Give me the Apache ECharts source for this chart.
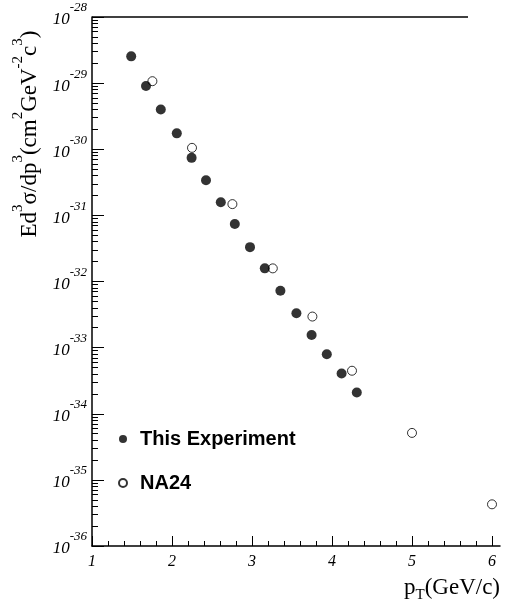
<!DOCTYPE html>
<html>
<head>
<meta charset="utf-8">
<script src="https://cdn.jsdelivr.net/npm/echarts@6/dist/echarts.min.js"></script>
<style>
  html, body { margin: 0; padding: 0; background: #fff; }
  #chart { width: 506px; height: 616px; }
</style>
</head>
<body>
<div id="chart"></div>
<script>
// This Experiment (filled) and NA24 (open), pT in GeV/c, cross section in cm^2 GeV^-2 c^3
const expPt = [1.49, 1.675, 1.86, 2.06, 2.245, 2.425, 2.61, 2.785, 2.975, 3.16, 3.355, 3.555, 3.745, 3.935, 4.12, 4.31]
const expSigma = [2.54e-29, 9.04e-30, 3.98e-30, 1.74e-30, 7.41e-31, 3.39e-31, 1.58e-31, 7.41e-32,
  3.31e-32, 1.58e-32, 7.24e-33, 3.31e-33, 1.55e-33, 7.94e-34, 4.07e-34, 2.09e-34]
const na24Pt = [1.755, 2.25, 2.755, 3.26, 3.755, 4.25, 5.0, 6.0]
const na24Sigma = [1.07e-29, 1.05e-30, 1.48e-31, 1.58e-32, 2.95e-33, 4.47e-34, 5.13e-35, 4.27e-36]

const xMajorTicks = [1, 2, 3, 4, 5, 6]
const xMinorTicks = [1.2, 1.4, 1.6, 1.8, 2.2, 2.4, 2.6, 2.8, 3.2, 3.4, 3.6, 3.8,
  4.2, 4.4, 4.6, 4.8, 5.2, 5.4, 5.6, 5.8]
const yDecades = [-36, -35, -34, -33, -32, -31, -30, -29, -28]
const yMinorMult = [2, 3, 4, 5, 6, 7, 8, 9]

// ECharts' log axis breaks at 1e-36, so the y axis runs in log10 units
const yMinorTicks = []
yDecades.slice(0, -1).forEach(d => yMinorMult.forEach(k => yMinorTicks.push(d + Math.log10(k))))
const toPoints = (xs, ys) => xs.map((x, i) => [x, Math.log10(ys[i])])

const serif = 'Liberation Serif'
const chart = echarts.init(document.getElementById('chart'))

chart.setOption({
  animation: false,
  grid: { left: 92, right: 6, top: 17, bottom: 70 },
  title: {
    text: '{p|p}{s|T}{p|(GeV/c)}',
    right: 1, top: 568,
    textStyle: {
      rich: {
        p: { fontFamily: serif, fontSize: 23, fontWeight: 'normal', color: '#000', lineHeight: 30, verticalAlign: 'middle' },
        s: { fontFamily: serif, fontSize: 15, fontWeight: 'normal', color: '#000', lineHeight: 30, verticalAlign: 'bottom' }
      }
    }
  },
  legend: {
    orient: 'vertical', left: 113, top: 424,
    itemWidth: 24, itemHeight: 8, itemGap: 24,
    selectedMode: false,
    data: ['This Experiment', 'NA24'],
    textStyle: { fontFamily: 'Liberation Sans', fontWeight: 'bold', fontSize: 20, lineHeight: 20, color: '#000' }
  },
  graphic: [
    {
      type: 'text', x: 26, y: 134, rotation: Math.PI / 2,
      style: {
        text: '{m|Ed}{s|3}{m|σ/dp}{s|3}{m|(cm}{s|2}{m|GeV}{s|-2}{m|c}{s|3}{m|)}',
        align: 'center', verticalAlign: 'middle',
        rich: {
          m: { fontFamily: serif, fontSize: 23, fill: '#000', lineHeight: 30, verticalAlign: 'bottom' },
          s: { fontFamily: serif, fontSize: 15, fill: '#000', lineHeight: 30, verticalAlign: 'top' }
        }
      }
    },
    { type: 'line', shape: { x1: 92, y1: 17, x2: 468, y2: 17 }, style: { stroke: '#000', lineWidth: 1.5 } }
  ],
  xAxis: [
    {
      type: 'value', min: 1, max: 6.1, position: 'bottom',
      axisLine: { onZero: false, lineStyle: { color: '#000', width: 1.5 } },
      axisTick: { inside: true, length: 10, customValues: xMajorTicks, lineStyle: { color: '#000' } },
      axisLabel: {
        customValues: xMajorTicks, margin: 8,
        fontFamily: serif, fontStyle: 'italic', fontSize: 16, color: '#000'
      },
      splitLine: { show: false }
    },
    {
      type: 'value', min: 1, max: 6.1, position: 'bottom',
      axisLine: { show: false, onZero: false },
      axisTick: { inside: true, length: 5, customValues: xMinorTicks, lineStyle: { color: '#000' } },
      axisLabel: { show: false },
      splitLine: { show: false }
    }
  ],
  yAxis: [
    {
      type: 'value', min: -36, max: -28, interval: 1, position: 'left',
      axisLine: { show: true, onZero: false, lineStyle: { color: '#000', width: 1.5 } },
      axisTick: { show: true, inside: true, length: 12, lineStyle: { color: '#000' } },
      axisLabel: {
        margin: 5,
        padding: [0, 0, 4, 0],
        formatter: v => '{b|10}{e|' + v + '}',
        rich: {
          b: { fontFamily: serif, fontStyle: 'italic', fontSize: 17, color: '#000', lineHeight: 27, verticalAlign: 'bottom', width: 11 },
          e: { fontFamily: serif, fontStyle: 'italic', fontSize: 13, color: '#000', lineHeight: 27, verticalAlign: 'top' }
        }
      },
      splitLine: { show: false }
    },
    {
      type: 'value', min: -36, max: -28, position: 'left',
      axisLine: { show: false, onZero: false },
      axisTick: { show: true, inside: true, length: 6, customValues: yMinorTicks, lineStyle: { color: '#000' } },
      axisLabel: { show: false },
      splitLine: { show: false }
    }
  ],
  series: [
    {
      name: 'This Experiment', type: 'scatter', xAxisIndex: 0, yAxisIndex: 0,
      symbol: 'circle', symbolSize: 10, z: 3,
      itemStyle: { color: '#000' },
      data: toPoints(expPt, expSigma)
    },
    {
      name: 'NA24', type: 'scatter', xAxisIndex: 0, yAxisIndex: 0,
      symbol: 'circle', symbolSize: 9, z: 2,
      itemStyle: { color: '#fff', borderColor: '#000', borderWidth: 1 },
      data: toPoints(na24Pt, na24Sigma)
    }
  ]
})
</script>
</body>
</html>
